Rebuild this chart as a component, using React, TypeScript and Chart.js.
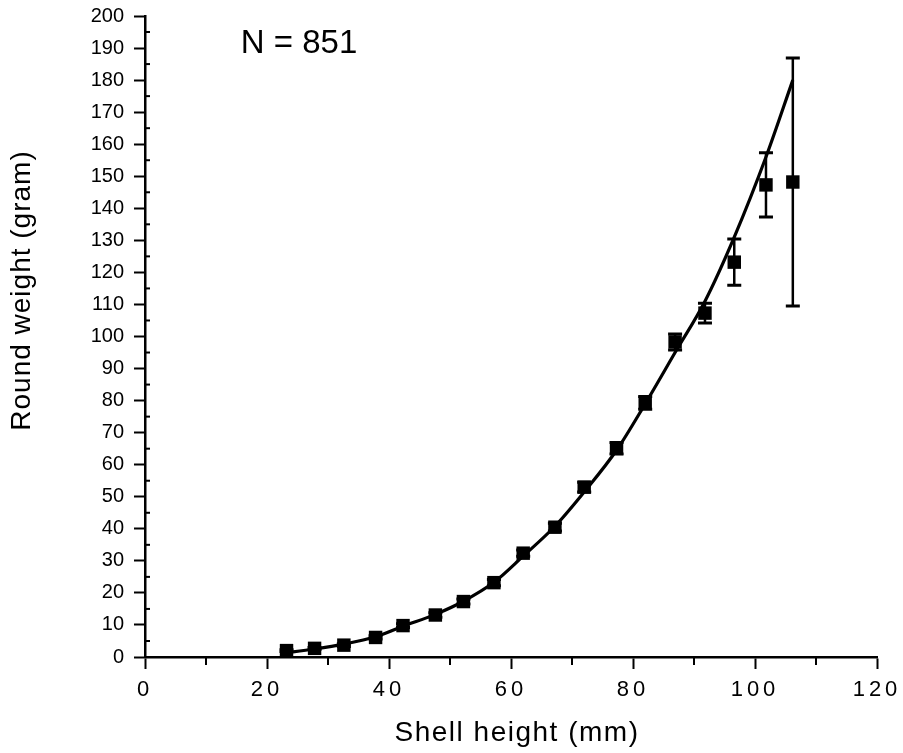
import React, { useEffect, useRef } from 'react';
import { Chart, registerables } from 'chart.js';

Chart.register(...registerables);

// Mean round weight per shell-height class
const shellHeight = [23.2, 27.8, 32.6, 37.8, 42.3, 47.6, 52.2, 57.2, 62.0, 67.2, 72.0, 77.3, 82.0, 86.9, 91.8, 96.6, 101.8, 106.2];
const roundWeight = [2.0, 2.7, 3.7, 6.1, 9.8, 13.1, 17.3, 23.2, 32.4, 40.5, 53.0, 65.1, 79.3, 98.3, 107.3, 123.2, 147.3, 148.2];
const weightError = [0.3, 0.3, 0.4, 0.5, 0.6, 0.7, 0.8, 1.0, 1.0, 1.2, 1.5, 1.8, 2.0, 2.5, 3.1, 7.2, 10.0, 38.7];

// Fitted curve
const curveHeight = [22.5, 27.8, 32.6, 37.8, 42.3, 47.6, 52.2, 57.2, 62.0, 67.2, 72.0, 77.3, 82.0, 86.9, 91.8, 96.6, 101.8, 106.2];
const curveWeight = [1.2, 2.5, 4.0, 6.3, 9.6, 13.3, 17.4, 23.3, 31.5, 40.8, 51.5, 64.5, 79.0, 95.0, 111.0, 131.0, 156.0, 180.0];

const xTickValues = [0, 20, 40, 60, 80, 100, 120];
const xMinorTicks = [10, 30, 50, 70, 90, 110];
const yTickValues = [0, 10, 20, 30, 40, 50, 60, 70, 80, 90, 100, 110, 120, 130, 140, 150, 160, 170, 180, 190, 200];
const yMinorTicks = [5, 15, 25, 35, 45, 55, 65, 75, 85, 95, 105, 115, 125, 135, 145, 155, 165, 175, 185, 195];

const xTitle = 'Shell height (mm)';
const yTitle = 'Round weight (gram)';
const sampleLabel = 'N = 851';
const sampleLabelPos = { x: 15.7, y: 191.3 };

const FONT = '"Liberation Sans", Arial, Helvetica, sans-serif';

const minorTicksPlugin = {
  id: 'minorTicks',
  afterDraw(chart: any) {
    const { ctx, scales, chartArea } = chart;
    const x = scales.x;
    const y = scales.y;
    ctx.save();
    ctx.strokeStyle = '#000';
    ctx.lineWidth = 2;
    yMinorTicks.forEach((v) => {
      const py = y.getPixelForValue(v);
      ctx.beginPath();
      ctx.moveTo(chartArea.left, py);
      ctx.lineTo(chartArea.left + 5, py);
      ctx.stroke();
    });
    xMinorTicks.forEach((v) => {
      const px = x.getPixelForValue(v);
      ctx.beginPath();
      ctx.moveTo(px, chartArea.bottom);
      ctx.lineTo(px, chartArea.bottom + 8);
      ctx.stroke();
    });
    ctx.restore();
  },
};

const errorBarsPlugin = {
  id: 'errorBars',
  afterDatasetsDraw(chart: any) {
    const { ctx, scales } = chart;
    const x = scales.x;
    const y = scales.y;
    ctx.save();
    ctx.strokeStyle = '#000';
    shellHeight.forEach((h, i) => {
      const px = x.getPixelForValue(h);
      const top = y.getPixelForValue(roundWeight[i] + weightError[i]);
      const bot = y.getPixelForValue(roundWeight[i] - weightError[i]);
      ctx.lineWidth = 2.5;
      ctx.beginPath();
      ctx.moveTo(px, top);
      ctx.lineTo(px, bot);
      ctx.stroke();
      ctx.lineWidth = 3;
      ctx.beginPath();
      ctx.moveTo(px - 7, top);
      ctx.lineTo(px + 7, top);
      ctx.moveTo(px - 7, bot);
      ctx.lineTo(px + 7, bot);
      ctx.stroke();
    });
    ctx.restore();
  },
};

const sampleLabelPlugin = {
  id: 'sampleLabel',
  afterDraw(chart: any) {
    const { ctx, scales } = chart;
    ctx.save();
    ctx.fillStyle = '#000';
    ctx.font = `33px ${FONT}`;
    ctx.textAlign = 'left';
    ctx.textBaseline = 'middle';
    ctx.fillText(sampleLabel, scales.x.getPixelForValue(sampleLabelPos.x), scales.y.getPixelForValue(sampleLabelPos.y));
    ctx.restore();
  },
};

function withSpacing(fn: any, spacing: string, dx = 0, dy = 0) {
  return function (this: any, ...args: any[]) {
    const ctx = this.ctx;
    ctx.save();
    ctx.letterSpacing = spacing;
    ctx.translate(dx, dy);
    fn.apply(this, args);
    ctx.restore();
  };
}

const letterSpacingPlugin = {
  id: 'letterSpacing',
  afterLayout(chart: any) {
    const xs = chart.scales.x;
    const ys = chart.scales.y;
    if (xs && !xs.__spaced) {
      xs.drawLabels = withSpacing(xs.drawLabels, '4px');
      xs.drawTitle = withSpacing(xs.drawTitle, '1.5px', 6, 0);
      xs.__spaced = true;
    }
    if (ys && !ys.__spaced) {
      ys.drawTitle = withSpacing(ys.drawTitle, '1px', 0, -46);
      ys.__spaced = true;
    }
  },
};

export default function App() {
  const ref = useRef<HTMLCanvasElement>(null);

  useEffect(() => {
    const canvas = ref.current;
    if (!canvas) return;
    const points = shellHeight.map((h, i) => ({ x: h, y: roundWeight[i] }));
    const curve = curveHeight.map((h, i) => ({ x: h, y: curveWeight[i] }));

    const chart = new Chart(canvas, {
      type: 'scatter',
      data: {
        datasets: [
          {
            label: 'fit',
            data: curve,
            showLine: true,
            borderColor: '#000',
            borderWidth: 3.2,
            pointRadius: 0,
            cubicInterpolationMode: 'monotone',
            fill: false,
          } as any,
          {
            label: 'mean',
            data: points,
            pointStyle: 'rect',
            pointRadius: 9.5,
            backgroundColor: '#000',
            borderColor: '#000',
            borderWidth: 0,
            showLine: false,
          } as any,
        ],
      },
      options: {
        responsive: false,
        animation: false,
        devicePixelRatio: 1,
        layout: { padding: { left: 0, right: 26, top: 16, bottom: 0 } },
        plugins: {
          legend: { display: false },
          tooltip: { enabled: false },
        },
        scales: {
          x: {
            type: 'linear',
            min: 0,
            max: 120,
            afterBuildTicks: (s: any) => {
              s.ticks = xTickValues.map((v) => ({ value: v }));
            },
            afterFit: (s: any) => {
              s.height = 96;
              s.paddingLeft = 0;
              s.paddingRight = 0;
            },
            ticks: {
              color: '#000',
              font: { size: 22, family: FONT },
              padding: 8,
              maxRotation: 0,
              autoSkip: false,
            },
            grid: {
              drawOnChartArea: false,
              drawTicks: true,
              tickLength: 12,
              tickWidth: 2,
              tickColor: '#000',
            },
            border: { display: true, color: '#000', width: 2.5 },
            title: {
              display: true,
              text: xTitle,
              color: '#000',
              font: { size: 28, family: FONT },
              padding: { top: 0, bottom: 3 },
            },
          },
          y: {
            type: 'linear',
            min: 0,
            max: 200,
            afterBuildTicks: (s: any) => {
              s.ticks = yTickValues.map((v) => ({ value: v }));
            },
            afterFit: (s: any) => {
              s.width = 145;
              s.paddingTop = 0;
              s.paddingBottom = 0;
            },
            ticks: {
              color: '#000',
              font: { size: 20, family: FONT },
              padding: 10,
              autoSkip: false,
            },
            grid: {
              drawOnChartArea: false,
              drawTicks: true,
              tickLength: 11,
              tickWidth: 2,
              tickColor: '#000',
            },
            border: { display: true, color: '#000', width: 2.5 },
            title: {
              display: true,
              text: yTitle,
              color: '#000',
              font: { size: 28, family: FONT },
              padding: { top: 5, bottom: 0 },
            },
          },
        },
      } as any,
      plugins: [minorTicksPlugin, errorBarsPlugin, sampleLabelPlugin, letterSpacingPlugin],
    });

    return () => chart.destroy();
  }, []);

  return (
    <div style={{ position: 'absolute', left: 0, top: 0, width: 903, height: 753, background: '#fff' }}>
      <canvas ref={ref} width={903} height={753} style={{ width: 903, height: 753, display: 'block' }} />
    </div>
  );
}
